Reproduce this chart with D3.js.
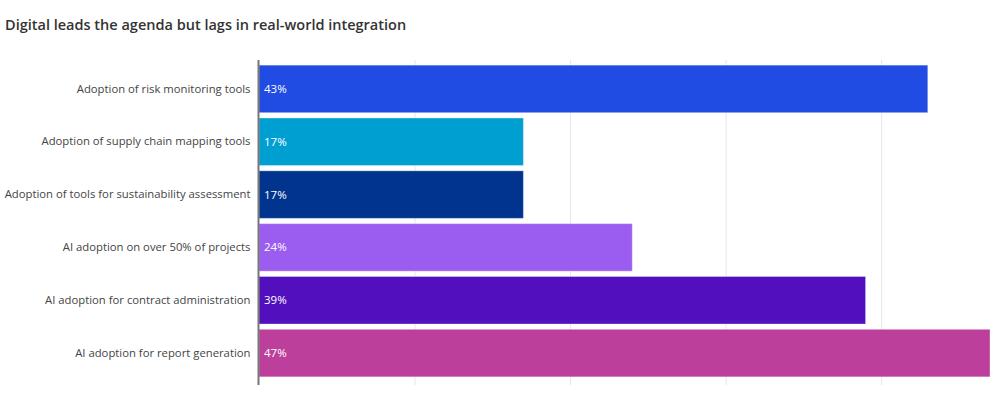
<!DOCTYPE html>
<html>
<head>
<meta charset="utf-8">
<script src="https://cdn.jsdelivr.net/npm/d3@7"></script>
<style>
  body { margin: 0; background: #fff; font-family: "Open Sans", sans-serif; }
</style>
</head>
<body>
<div id="chart"></div>
<script>
var categories = [
  "Adoption of risk monitoring tools",
  "Adoption of supply chain mapping tools",
  "Adoption of tools for sustainability assessment",
  "AI adoption on over 50% of projects",
  "AI adoption for contract administration",
  "AI adoption for report generation"
];
var values = [43, 17, 17, 24, 39, 47];
var colors = ["#214ce3", "#009fd2", "#00348e", "#9b5cf0", "#520fbe", "#bc3f9b"];
var gridTicks = [0, 10, 20, 30, 40];

function drawChart(){
    var width = 1000;
    var height = 395;

    var xScale = d3.scaleLinear()
    .domain([0, 47])
    .range([259, 990]);

    var yScale = d3.scaleBand()
    .domain(categories)
    .range([62.5, 379.5])
    .paddingInner(0.1)
    .paddingOuter(0.05);

    var svg = d3.select("#chart").append("svg")
    .attr("width", width)
    .attr("height", height);

    svg.append("text")
    .attr("x", 5)
    .attr("y", 30)
    .style("font-size", "14.5px")
    .style("font-weight", 600)
    .style("fill", "#333")
    .text("Digital leads the agenda but lags in real-world integration");

    // grid
    svg.append("g")
    .selectAll("line")
    .data(gridTicks.slice(1))
    .join("line")
    .attr("x1", function(d) { return xScale(d) + 0.5; })
    .attr("x2", function(d) { return xScale(d) + 0.5; })
    .attr("y1", 60)
    .attr("y2", 385)
    .attr("stroke", "#e6e6e6")
    .attr("stroke-width", 1);

    svg.append("g")
    .selectAll("rect")
    .data(values)
    .join("rect")
    .attr("x", xScale(0))
    .attr("y", function(d, i) { return yScale(categories[i]); })
    .attr("width", function(d) { return xScale(d) - xScale(0); })
    .attr("height", yScale.bandwidth())
    .attr("fill", function(d, i) { return colors[i]; })
    .attr("stroke", "rgba(255,255,255,0.35)")
    .attr("stroke-width", 1);

    svg.append("g")
    .selectAll("text")
    .data(values)
    .join("text")
    .attr("x", xScale(0) + 5)
    .attr("y", function(d, i) { return yScale(categories[i]) + yScale.bandwidth() / 2; })
    .attr("dy", "0.35em")
    .style("font-size", "11.5px")
    .style("fill", "#fff")
    .text(function(d) { return d + "%"; });

    var yAxis = svg.append("g")
    .attr("transform", "translate(" + (xScale(0) - 0.5) + ",0)")
    .call(d3.axisLeft(yScale).tickSize(0).tickPadding(8));

    yAxis.select(".domain").remove();
    yAxis.selectAll("text")
    .style("font-family", "'Open Sans', sans-serif")
    .style("font-size", "11.3px")
    .style("fill", "#444");

    svg.append("line")
    .attr("x1", xScale(0) - 0.5)
    .attr("x2", xScale(0) - 0.5)
    .attr("y1", 60)
    .attr("y2", 385)
    .attr("stroke", "#777")
    .attr("stroke-width", 2);
}

drawChart();
</script>
</body>
</html>
